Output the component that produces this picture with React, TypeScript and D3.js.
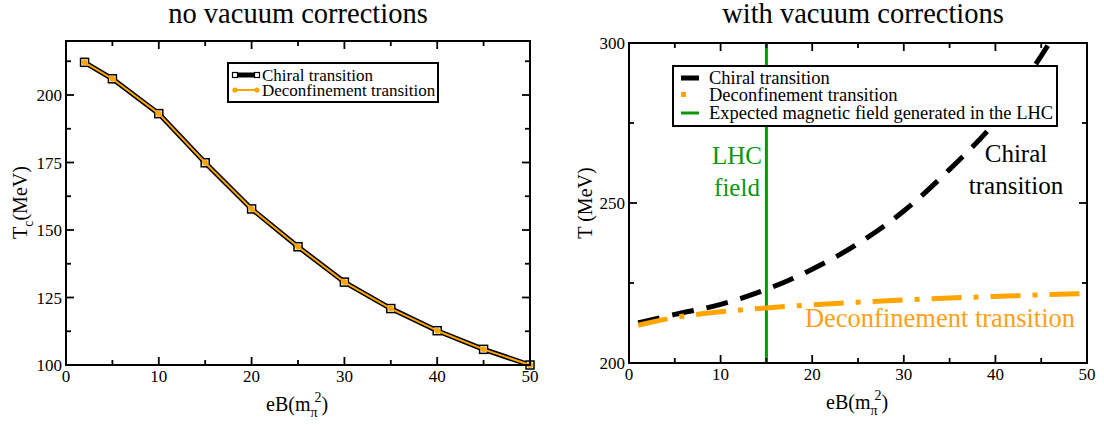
import * as d3 from "d3";
import {useEffect, useRef} from "react";

const width = 1104;
const height = 425;
const FONT = "Liberation Serif, DejaVu Serif, Times New Roman, serif";
const ORANGE = "#ffa500";
const GREEN = "#0a960a";

// left panel: no vacuum corrections
const eBLeft = [2, 5, 10, 15, 20, 25, 30, 35, 40, 45, 50];
const chiralLeft = [212.1, 206.0, 193.1, 174.9, 157.8, 143.8, 130.7, 120.9, 112.7, 105.8, 100];
const deconfLeft = [212.1, 206.0, 193.1, 174.9, 157.8, 143.8, 130.7, 120.9, 112.7, 105.8, 100];

// right panel: with vacuum corrections
const eBChiralRight = [1, 5, 10, 15, 20, 25, 30, 35, 40, 45, 47];
const chiralRight = [212.5, 215.2, 218.3, 223, 229.3, 237.3, 247.5, 260.5, 275.5, 296, 305];
const eBDeconfRight = [1, 5, 10, 15, 20, 25, 30, 35, 40, 45, 50];
const deconfRight = [211.8, 214.2, 216, 217.2, 218.2, 219, 219.7, 220.3, 220.8, 221.3, 221.7];
const lhcField = 15;

const xMajor = [0, 10, 20, 30, 40, 50];
const xMinor = [5, 15, 25, 35, 45];
const leftYMajor = [100, 125, 150, 175, 200];
const leftYMinor = [112.5, 137.5, 162.5, 187.5, 212.5];
const rightYMajor = [200, 250, 300];
const rightYMinor = [225, 275];

type G = d3.Selection<SVGGElement, unknown, null, undefined>;

// box with inward ticks on all four sides
const drawFrame = (
  g: G,
  x: d3.ScaleLinear<number, number>,
  y: d3.ScaleLinear<number, number>,
  yMajor: number[],
  yMinor: number[],
) => {
  const [x0, x1] = x.range();
  const [y0, y1] = y.range();
  const tick = (xa: number, ya: number, xb: number, yb: number) =>
    g.append("line").attr("x1", xa).attr("y1", ya).attr("x2", xb).attr("y2", yb)
      .attr("stroke", "#000").attr("stroke-width", 1.8);

  xMajor.forEach(v => { tick(x(v), y0, x(v), y0 - 8); tick(x(v), y1, x(v), y1 + 8); });
  xMinor.forEach(v => { tick(x(v), y0, x(v), y0 - 5); tick(x(v), y1, x(v), y1 + 5); });
  yMajor.forEach(v => { tick(x0, y(v), x0 + 8, y(v)); tick(x1, y(v), x1 - 8, y(v)); });
  yMinor.forEach(v => { tick(x0, y(v), x0 + 5, y(v)); tick(x1, y(v), x1 - 5, y(v)); });

  g.append("rect")
    .attr("x", x0).attr("y", y1).attr("width", x1 - x0).attr("height", y0 - y1)
    .attr("fill", "none").attr("stroke", "#000").attr("stroke-width", 2);

  g.selectAll(".xl").data(xMajor).enter().append("text")
    .attr("x", d => x(d)).attr("y", y0 + 17)
    .attr("text-anchor", "middle").attr("font-size", 17)
    .text(d => d);
  g.selectAll(".yl").data(yMajor).enter().append("text")
    .attr("x", x0 - 4).attr("y", d => y(d) + 6)
    .attr("text-anchor", "end").attr("font-size", 17)
    .text(d => d);

  // x axis title eB(m_pi^2)
  const xt = g.append("text")
    .attr("x", (x0 + x1) / 2 - 32).attr("y", y0 + 46)
    .attr("font-size", 20);
  xt.append("tspan").text("eB(m");
  xt.append("tspan").attr("dy", 6).attr("font-size", 14).text("π");
  xt.append("tspan").attr("dy", -15).attr("dx", -3).attr("font-size", 14).text("2");
  xt.append("tspan").attr("dy", 9).text(")");
};

const App = () => {
  const svgRef = useRef<SVGSVGElement>(null!);

  useEffect(() => {
    const svg = d3.select(svgRef.current);
    svg.selectAll("*").remove();
    const root = svg.append("g").style("font-family", FONT).attr("fill", "#000");

    // ---------- left panel ----------
    const xL = d3.scaleLinear().domain([0, 50]).range([66, 530]);
    const yL = d3.scaleLinear().domain([100, 220]).range([365, 41]);
    const gL = root.append("g");

    root.append("text").attr("x", 298).attr("y", 23)
      .attr("text-anchor", "middle").attr("font-size", 28.5)
      .text("no vacuum corrections");

    const yt = root.append("text")
      .attr("transform", "translate(27,239) rotate(-90)")
      .attr("font-size", 20);
    yt.append("tspan").text("T");
    yt.append("tspan").attr("dy", 6).attr("font-size", 14).text("c");
    yt.append("tspan").attr("dy", -6).text("(MeV)");

    const lineL = d3.line<number>().x((_, i) => xL(eBLeft[i]));
    gL.append("path")
      .attr("d", lineL.y(d => yL(d))(chiralLeft))
      .attr("fill", "none").attr("stroke", "#000").attr("stroke-width", 5)
      .attr("stroke-linejoin", "round");
    gL.selectAll(".sq").data(chiralLeft).enter().append("rect")
      .attr("x", (_, i) => xL(eBLeft[i]) - 4).attr("y", d => yL(d) - 4)
      .attr("width", 8).attr("height", 8)
      .attr("fill", "#fff").attr("stroke", "#000").attr("stroke-width", 1.5);
    gL.append("path")
      .attr("d", lineL.y(d => yL(d))(deconfLeft))
      .attr("fill", "none").attr("stroke", ORANGE).attr("stroke-width", 2)
      .attr("stroke-linejoin", "round");
    gL.selectAll(".dot").data(deconfLeft).enter().append("circle")
      .attr("cx", (_, i) => xL(eBLeft[i])).attr("cy", d => yL(d)).attr("r", 3)
      .attr("fill", ORANGE);

    drawFrame(gL, xL, yL, leftYMajor, leftYMinor);

    // legend left
    gL.append("rect").attr("x", 228).attr("y", 63).attr("width", 210).attr("height", 39)
      .attr("fill", "#fff").attr("stroke", "#000").attr("stroke-width", 2);
    gL.append("line").attr("x1", 235).attr("x2", 257).attr("y1", 75).attr("y2", 75)
      .attr("stroke", "#000").attr("stroke-width", 5);
    [235, 257].forEach(px => gL.append("rect")
      .attr("x", px - 2.5).attr("y", 72.5).attr("width", 5).attr("height", 5)
      .attr("fill", "#fff").attr("stroke", "#000").attr("stroke-width", 1.2));
    gL.append("line").attr("x1", 235).attr("x2", 257).attr("y1", 90).attr("y2", 90)
      .attr("stroke", ORANGE).attr("stroke-width", 2);
    [235, 257].forEach(px => gL.append("circle")
      .attr("cx", px).attr("cy", 90).attr("r", 2.6).attr("fill", ORANGE));
    gL.append("text").attr("x", 262).attr("y", 80.5).attr("font-size", 17).text("Chiral transition");
    gL.append("text").attr("x", 262).attr("y", 96).attr("font-size", 17).text("Deconfinement transition");

    // ---------- right panel ----------
    const xR = d3.scaleLinear().domain([0, 50]).range([629, 1087]);
    const yR = d3.scaleLinear().domain([200, 300]).range([363, 43]);
    const gR = root.append("g");

    root.append("text").attr("x", 863).attr("y", 23)
      .attr("text-anchor", "middle").attr("font-size", 28.5)
      .text("with vacuum corrections");

    root.append("text")
      .attr("transform", "translate(592,203) rotate(-90)")
      .attr("text-anchor", "middle").attr("font-size", 20)
      .text("T (MeV)");

    svg.append("defs").append("clipPath").attr("id", "clipR")
      .append("rect").attr("x", 629).attr("y", 43).attr("width", 458).attr("height", 320);

    const plotR = gR.append("g").attr("clip-path", "url(#clipR)");

    plotR.append("line")
      .attr("x1", xR(lhcField)).attr("x2", xR(lhcField))
      .attr("y1", yR(200)).attr("y2", yR(300))
      .attr("stroke", GREEN).attr("stroke-width", 3);

    const chiralLine = d3.line<number>()
      .x((_, i) => xR(eBChiralRight[i])).y(d => yR(d))
      .curve(d3.curveMonotoneX);
    plotR.append("path").attr("d", chiralLine(chiralRight))
      .attr("fill", "none").attr("stroke", "#000").attr("stroke-width", 5)
      .attr("stroke-dasharray", "22,13");

    const deconfLine = d3.line<number>()
      .x((_, i) => xR(eBDeconfRight[i])).y(d => yR(d))
      .curve(d3.curveMonotoneX);
    plotR.append("path").attr("d", deconfLine(deconfRight))
      .attr("fill", "none").attr("stroke", ORANGE).attr("stroke-width", 5)
      .attr("stroke-dasharray", "30,12,5,12");

    drawFrame(gR, xR, yR, rightYMajor, rightYMinor);

    // annotations
    gR.append("text").attr("x", 737).attr("y", 164).attr("text-anchor", "middle")
      .attr("font-size", 25).attr("fill", GREEN).text("LHC");
    gR.append("text").attr("x", 737).attr("y", 196).attr("text-anchor", "middle")
      .attr("font-size", 25).attr("fill", GREEN).text("field");
    gR.append("text").attr("x", 1016).attr("y", 162).attr("text-anchor", "middle")
      .attr("font-size", 25).text("Chiral");
    gR.append("text").attr("x", 1016).attr("y", 194).attr("text-anchor", "middle")
      .attr("font-size", 25).text("transition");
    gR.append("text").attr("x", 940).attr("y", 327).attr("text-anchor", "middle")
      .attr("font-size", 26.5).attr("fill", "#ff9f1a").text("Deconfinement transition");

    // legend right
    gR.append("rect").attr("x", 673).attr("y", 66).attr("width", 384).attr("height", 60)
      .attr("fill", "#fff").attr("stroke", "#000").attr("stroke-width", 2);
    gR.append("line").attr("x1", 681).attr("x2", 699).attr("y1", 78).attr("y2", 78)
      .attr("stroke", "#000").attr("stroke-width", 5);
    gR.append("rect").attr("x", 681).attr("y", 92).attr("width", 5).attr("height", 5)
      .attr("fill", ORANGE);
    gR.append("line").attr("x1", 681).attr("x2", 699).attr("y1", 113).attr("y2", 113)
      .attr("stroke", GREEN).attr("stroke-width", 3);
    gR.append("text").attr("x", 709).attr("y", 83.5).attr("font-size", 18.5).text("Chiral transition");
    gR.append("text").attr("x", 709).attr("y", 101).attr("font-size", 18.5).text("Deconfinement transition");
    gR.append("text").attr("x", 709).attr("y", 118.5).attr("font-size", 18.5)
      .text("Expected magnetic field generated in the LHC");
  }, []);

  return (
    <svg ref={svgRef} width={width} height={height}
         style={{position: "absolute", left: 0, top: 0, background: "#fff"}}/>
  );
};

export default App;
